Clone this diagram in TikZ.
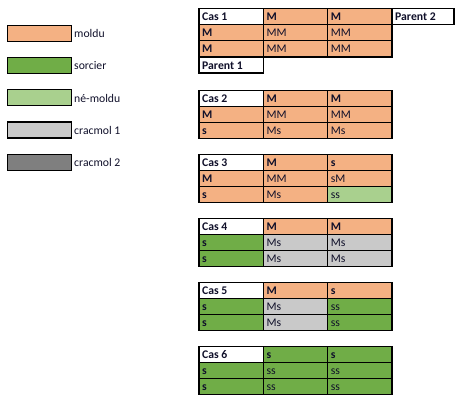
\documentclass[tikz,border=0pt]{standalone}
\usepackage{fontspec}
\setmainfont{Carlito}
\definecolor{moldu}{HTML}{F4B183}
\definecolor{sorc}{HTML}{70AD47}
\definecolor{nemoldu}{HTML}{A9D08E}
\definecolor{cracA}{HTML}{C9C9C9}
\definecolor{cracB}{HTML}{7F7F7F}
\definecolor{txt}{HTML}{10102A}
\newcommand{\cel}[6]{% x, y, width, fill, text, font
  \fill[#4] (#1,#2) rectangle ++(#3,16);
  \draw[gridline] (#1,#2) rectangle ++(#3,16);
  \node[celltext,font=#6] at ({#1+3},{#2+12.4}) {#5};
}
\def\mkcel#1:#2\relax#3#4#5{\cel{#3}{#4}{\w}{#1}{#2}{#5}}
\begin{document}
\begin{tikzpicture}[x=1pt,y=-1pt,
  gridline/.style={draw=black,line width=0.8pt},
  outer/.style={draw=black,line width=1.6pt},
  celltext/.style={anchor=base west,inner sep=0pt,text=txt},
  legbox/.style={draw=black,line width=1.2pt},
  legtext/.style={anchor=base west,inner sep=0pt,text=txt,font=\fontsize{11.7}{14}\selectfont}]
\useasboundingbox (0,0) rectangle (462,405);
\def\fb{\fontsize{11.7}{14}\selectfont\bfseries}
\def\fn{\fontsize{11.7}{14}\selectfont}
% legend
\foreach \c/\t [count=\i from 0] in {moldu/moldu, sorc/sorcier, nemoldu/né-moldu, cracA/cracmol 1, cracB/cracmol 2}{
  \fill[\c] (7.3,{25.3+32.25*\i}) rectangle ++(64.4,16);
  \draw[legbox] (7.3,{25.3+32.25*\i}) rectangle ++(64.4,16);
  \node[legtext] at (74,{37.6+32.25*\i}) {\t};
}
% table 1
\def\xa{199}\def\xb{263.3}\def\xc{327.7}\def\xd{392}\def\w{64.3}
\cel{\xa}{8.3}{\w}{white}{Cas 1}{\fb}
\cel{\xb}{8.3}{\w}{moldu}{M}{\fb}
\cel{\xc}{8.3}{\w}{moldu}{M}{\fb}
\cel{\xd}{8.3}{62}{white}{Parent 2}{\fb}
\cel{\xa}{24.3}{\w}{moldu}{M}{\fb}
\cel{\xb}{24.3}{\w}{moldu}{MM}{\fn}
\cel{\xc}{24.3}{\w}{moldu}{MM}{\fn}
\cel{\xa}{40.5}{\w}{moldu}{M}{\fb}
\cel{\xb}{40.5}{\w}{moldu}{MM}{\fn}
\cel{\xc}{40.5}{\w}{moldu}{MM}{\fn}
\cel{\xa}{56.7}{\w}{white}{Parent 1}{\fb}
\draw[outer] (\xa,8.3) rectangle (454,24.3);
\draw[outer] (\xb,8.3) rectangle (\xd,56.7);
\draw[outer] (\xa,24.3) rectangle (\xb,56.7);
\draw[outer] (\xa,56.7) rectangle (\xb,72.7);
% tables 2-6
\foreach \y/\ca/\cb/\cc/\cd/\ce/\cf/\cg/\ch/\ci in {
 90.3/white:Cas 2/moldu:M/moldu:M/moldu:M/moldu:MM/moldu:MM/moldu:s/moldu:Ms/moldu:Ms,
 154.3/white:Cas 3/moldu:M/moldu:s/moldu:M/moldu:MM/moldu:sM/moldu:s/moldu:Ms/nemoldu:ss,
 218.3/white:Cas 4/moldu:M/moldu:M/sorc:s/cracA:Ms/cracA:Ms/sorc:s/cracA:Ms/cracA:Ms,
 282.3/white:Cas 5/moldu:M/moldu:s/sorc:s/cracA:Ms/sorc:ss/sorc:s/cracA:Ms/sorc:ss,
 346.3/white:Cas 6/sorc:s/sorc:s/sorc:s/sorc:ss/sorc:ss/sorc:s/sorc:ss/sorc:ss}{
  \pgfmathsetmacro\yb{\y+16}
  \pgfmathsetmacro\yc{\y+32}
  \pgfmathsetmacro\yd{\y+48}
  \expandafter\mkcel\ca\relax{\xa}{\y}{\fb}
  \expandafter\mkcel\cb\relax{\xb}{\y}{\fb}
  \expandafter\mkcel\cc\relax{\xc}{\y}{\fb}
  \expandafter\mkcel\cd\relax{\xa}{\yb}{\fb}
  \expandafter\mkcel\ce\relax{\xb}{\yb}{\fn}
  \expandafter\mkcel\cf\relax{\xc}{\yb}{\fn}
  \expandafter\mkcel\cg\relax{\xa}{\yc}{\fb}
  \expandafter\mkcel\ch\relax{\xb}{\yc}{\fn}
  \expandafter\mkcel\ci\relax{\xc}{\yc}{\fn}
  \draw[outer] (\xa,\y) rectangle (\xd,\yd);
}
\end{tikzpicture}
\end{document}
